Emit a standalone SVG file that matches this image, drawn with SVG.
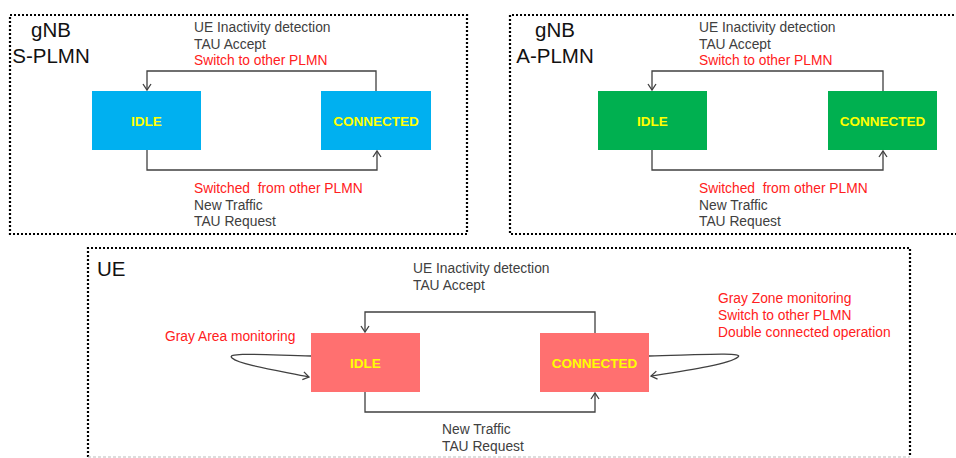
<svg xmlns="http://www.w3.org/2000/svg" width="956" height="458" viewBox="0 0 956 458">
<defs>
<marker id="arr" markerWidth="10" markerHeight="10" refX="7" refY="5" orient="auto" markerUnits="userSpaceOnUse">
<path d="M1,1 L7,5 L1,9" fill="none" stroke="#404040" stroke-width="1.3"/>
</marker>
</defs>
<style>
.frame{fill:none;stroke:#000;stroke-width:2.2;stroke-dasharray:2 2}
.big{font-family:"Liberation Sans",Arial,sans-serif;font-size:20.5px;fill:#111}
.lbl{font-family:"Liberation Sans",Arial,sans-serif;font-size:13.8px;fill:#404040}
.red{fill:#ff2020}
.st{font-family:"Liberation Sans",Arial,sans-serif;font-size:13.5px;font-weight:bold;fill:#ffff00;text-anchor:middle}
.conn{fill:none;stroke:#404040;stroke-width:1.3}
.blue{fill:#00b0f0}
.green{fill:#00b050}
.pink{fill:#ff7070}
</style>
<rect width="956" height="458" fill="#fff"/>

<!-- Frames -->
<g id="frame-s-plmn">
<rect class="frame" x="10" y="15" width="457" height="219"/>
<text class="big" x="51" y="37" text-anchor="middle">gNB</text>
<text class="big" x="51" y="63" text-anchor="middle">S-PLMN</text>
</g>
<g id="frame-a-plmn">
<path class="frame" d="M958,15 H510 V234 H958"/>
<text class="big" x="555" y="37" text-anchor="middle">gNB</text>
<text class="big" x="555" y="63" text-anchor="middle">A-PLMN</text>
</g>
<g id="frame-ue">
<path class="frame" d="M88,457 V248 H910 V457"/>
<line x1="88" y1="457" x2="910" y2="457" stroke="#bbb" stroke-width="1" stroke-dasharray="3 2"/>
<text class="big" x="97" y="276">UE</text>
</g>

<!-- Nodes -->
<g id="s-idle"><rect class="blue" x="92" y="91" width="109" height="59"/><text class="st" x="146.5" y="125.5">IDLE</text></g>
<g id="s-connected"><rect class="blue" x="321" y="91" width="110" height="59"/><text class="st" x="376" y="125.5">CONNECTED</text></g>
<g id="a-idle"><rect class="green" x="598" y="91" width="109" height="59"/><text class="st" x="652.5" y="125.5">IDLE</text></g>
<g id="a-connected"><rect class="green" x="828" y="91" width="109" height="59"/><text class="st" x="882.5" y="125.5">CONNECTED</text></g>
<g id="ue-idle"><rect class="pink" x="311" y="333" width="109" height="59"/><text class="st" x="365.5" y="367.5">IDLE</text></g>
<g id="ue-connected"><rect class="pink" x="540" y="333" width="109" height="59"/><text class="st" x="594.5" y="367.5">CONNECTED</text></g>

<!-- Connectors -->
<g id="connectors">
<path class="conn" d="M376,91 V71 H147 V90" marker-end="url(#arr)"/>
<path class="conn" d="M147,150 V170 H377 V151" marker-end="url(#arr)"/>
<path class="conn" d="M883,91 V71 H652 V90" marker-end="url(#arr)"/>
<path class="conn" d="M652,150 V170 H883 V151" marker-end="url(#arr)"/>
<path class="conn" d="M595,333 V312 H365 V332" marker-end="url(#arr)"/>
<path class="conn" d="M365,392 V412 H595 V393" marker-end="url(#arr)"/>
<path class="conn" d="M311,356 C265,355 225,352 232,358 C240,365 280,371 309,377" marker-end="url(#arr)"/>
<path class="conn" d="M649,356 C695,355 745,352 738,357 C730,364 690,370 651,376" marker-end="url(#arr)"/>
</g>

<!-- Labels -->
<g id="labels">
<text class="lbl" x="194" y="32">UE Inactivity detection</text>
<text class="lbl" x="194" y="48.5">TAU Accept</text>
<text class="lbl red" x="194" y="65">Switch to other PLMN</text>
<text class="lbl red" x="194" y="193" xml:space="preserve">Switched  from other PLMN</text>
<text class="lbl" x="194" y="209.5">New Traffic</text>
<text class="lbl" x="194" y="226">TAU Request</text>

<text class="lbl" x="699" y="32">UE Inactivity detection</text>
<text class="lbl" x="699" y="48.5">TAU Accept</text>
<text class="lbl red" x="699" y="65">Switch to other PLMN</text>
<text class="lbl red" x="699" y="193" xml:space="preserve">Switched  from other PLMN</text>
<text class="lbl" x="699" y="209.5">New Traffic</text>
<text class="lbl" x="699" y="226">TAU Request</text>

<text class="lbl" x="413" y="273">UE Inactivity detection</text>
<text class="lbl" x="413" y="290">TAU Accept</text>
<text class="lbl" x="442" y="434">New Traffic</text>
<text class="lbl" x="442" y="451">TAU Request</text>
<text class="lbl red" x="165" y="341">Gray Area monitoring</text>
<text class="lbl red" x="718" y="303">Gray Zone monitoring</text>
<text class="lbl red" x="718" y="320">Switch to other PLMN</text>
<text class="lbl red" x="718" y="336.5">Double connected operation</text>
</g>
</svg>
